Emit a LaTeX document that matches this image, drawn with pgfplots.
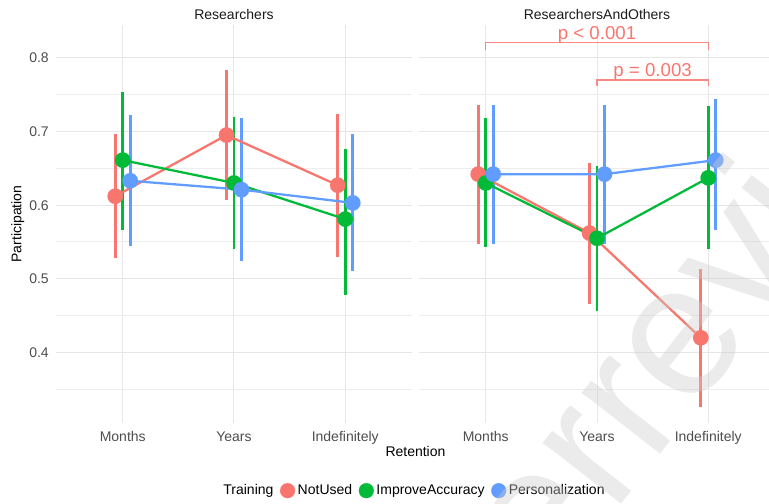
\documentclass[border=0pt]{standalone}
\usepackage{fontspec}
\setmainfont{Liberation Sans}
\usepackage{pgfplots}
\usepackage{pgfplotstable}
\pgfplotsset{compat=1.18}

\definecolor{cNot}{HTML}{F8766D}
\definecolor{cAcc}{HTML}{00BA38}
\definecolor{cPer}{HTML}{619CFF}
\definecolor{gridc}{HTML}{E6E6E6}
\definecolor{ticktext}{HTML}{4D4D4D}
\definecolor{striptext}{HTML}{1A1A1A}
\definecolor{wm}{gray}{0.8}

% Participation by retention period: estimate, lower and upper bound
% Panel 1: Researchers
\pgfplotstableread{
cat y lo hi
1 0.612 0.528 0.697
2 0.695 0.607 0.784
3 0.627 0.529 0.724
}\LNot
\pgfplotstableread{
cat y lo hi
1 0.661 0.566 0.754
2 0.630 0.540 0.720
3 0.581 0.478 0.676
}\LAcc
\pgfplotstableread{
cat y lo hi
1 0.633 0.544 0.722
2 0.621 0.524 0.718
3 0.603 0.510 0.697
}\LPer
% Panel 2: ResearchersAndOthers
\pgfplotstableread{
cat y lo hi
1 0.642 0.547 0.736
2 0.562 0.466 0.657
3 0.420 0.3265 0.513
}\RNot
\pgfplotstableread{
cat y lo hi
1 0.630 0.543 0.718
2 0.555 0.456 0.653
3 0.637 0.540 0.734
}\RAcc
\pgfplotstableread{
cat y lo hi
1 0.642 0.547 0.736
2 0.642 0.547 0.736
3 0.661 0.566 0.744
}\RPer

\newcommand{\dodge}{0.0674}
\newcommand{\txt}{\fontsize{10.5}{12}\selectfont}

\pgfplotsset{
  panel/.style={
    scale only axis, width=267pt, height=298.5pt,
    xmin=0.4, xmax=3.6, ymin=0.3043, ymax=0.8444,
    xtick={1,2,3}, xticklabels={Months,Years,Indefinitely},
    ytick={0.4,0.5,0.6,0.7,0.8},
    minor ytick={0.35,0.45,0.55,0.65,0.75},
    xmajorgrids, ymajorgrids, yminorgrids,
    major grid style={draw=gridc, line width=0.75pt},
    minor grid style={draw=gridc!70!white, line width=0.75pt},
    axis line style={draw=none},
    tick style={draw=none},
    /pgf/number format/assume math mode=true,
    /pgf/number format/fixed,
    /pgf/number format/fixed zerofill,
    /pgf/number format/precision=1,
    ticklabel style={font=\txt, text=ticktext, inner sep=0pt},
    xticklabel style={anchor=base, yshift=-14pt},
    yticklabel style={anchor=base east, xshift=-5.25pt, yshift=-3.75pt},
    clip=false,
  },
  ebar/.style={forget plot, draw=#1, line width=2pt, mark=none, -,
    quiver={u=0, v=\thisrow{hi}-\thisrow{lo},
      every arrow/.append style={draw=#1, line width=2pt}}},
  conn/.style={forget plot, color=#1, line width=1.7pt, mark=none},
  pts/.style={forget plot, color=#1, only marks, mark=*, mark size=5.8pt,
    mark options={fill=#1, draw=#1, line width=0.1pt}},
  key/.style={only marks, mark=*, mark size=5.6pt,
    mark options={fill=#1, draw=#1, line width=0.1pt}},
}

% draw one series of a panel: interval bars, connecting line, points
\newcommand{\bars}[3]{%
  \addplot[ebar=#2] table[x expr=\thisrow{cat}+#3, y=lo] {#1};}
\newcommand{\conn}[3]{%
  \addplot[conn=#2] table[x expr=\thisrow{cat}+#3, y=y] {#1};}
\newcommand{\pts}[3]{%
  \addplot[pts=#2] table[x expr=\thisrow{cat}+#3, y=y] {#1};}

\begin{document}
\begin{tikzpicture}

% left panel
\begin{axis}[panel, at={(42pt,-317.25pt)}, anchor=south west,
  legend columns=-1,
  legend style={at={(1.0056,-0.170)}, anchor=center, draw=none, fill=none,
    font=\txt, inner sep=0pt,
    /tikz/every even column/.append style={column sep=3pt}},
  legend cell align=left]
  \bars{\LNot}{cNot}{-\dodge}
  \bars{\LAcc}{cAcc}{0}
  \bars{\LPer}{cPer}{\dodge}
  \conn{\LNot}{cNot}{-\dodge}
  \conn{\LAcc}{cAcc}{0}
  \conn{\LPer}{cPer}{\dodge}
  \pts{\LNot}{cNot}{-\dodge}
  \pts{\LAcc}{cAcc}{0}
  \pts{\LPer}{cPer}{\dodge}
  \node[anchor=base, font=\txt, text=striptext] at (rel axis cs:0.5,1) [yshift=4.5pt] {Researchers};
  \addlegendimage{empty legend}
  \addlegendentry{Training}
  \addlegendimage{key=cNot}
  \addlegendentry{NotUsed}
  \addlegendimage{key=cAcc}
  \addlegendentry{ImproveAccuracy}
  \addlegendimage{key=cPer}
  \addlegendentry{Personalization}
\end{axis}

% right panel
\begin{axis}[panel, at={(314.25pt,-317.25pt)}, anchor=south west,
  yticklabels={}]
  \bars{\RNot}{cNot}{-\dodge}
  \bars{\RAcc}{cAcc}{0}
  \bars{\RPer}{cPer}{\dodge}
  \conn{\RNot}{cNot}{-\dodge}
  \conn{\RAcc}{cAcc}{0}
  \conn{\RPer}{cPer}{\dodge}
  \pts{\RNot}{cNot}{-\dodge}
  \pts{\RAcc}{cAcc}{0}
  \pts{\RPer}{cPer}{\dodge}
  \node[anchor=base, font=\txt, text=striptext] at (rel axis cs:0.5,1) [yshift=4.5pt] {ResearchersAndOthers};
  % significance brackets
  \draw[cNot, opacity=0.85, line width=0.9pt]
    (axis cs:1,0.8104) -- (axis cs:1,0.8204) -- (axis cs:3,0.8204) -- (axis cs:3,0.8104);
  \node[anchor=base, text=cNot, font=\fontsize{14}{16}\selectfont, inner sep=0pt]
    at (axis cs:2,0.8204) [yshift=2.5pt] {p < 0.001};
  \draw[cNot, opacity=0.85, line width=0.9pt]
    (axis cs:2,0.762) -- (axis cs:2,0.7697) -- (axis cs:3,0.7697) -- (axis cs:3,0.762);
  \node[anchor=base, text=cNot, font=\fontsize{14}{16}\selectfont, inner sep=0pt]
    at (axis cs:2.5,0.7697) [yshift=2.9pt] {p = 0.003};
\end{axis}

% axis titles
\node[anchor=base, font=\txt] at (311.6pt,-342.5pt) {Retention};
\node[anchor=base, rotate=90, font=\txt] at (16.1pt,-168pt) {Participation};

% watermark
\node[rotate=52, anchor=base west, inner sep=0pt, text=wm, text opacity=0.4,
  font=\fontsize{141}{141}\selectfont] at (489pt,-348.75pt) {review};
\node[rotate=52, anchor=base east, inner sep=0pt, text=wm, text opacity=0.4,
  font=\fontsize{141}{141}\selectfont] at (489pt,-348.75pt) {Under\hspace{0.278em}};

\pgfresetboundingbox
\useasboundingbox (0pt,0pt) rectangle (576.75pt,-378pt);
\end{tikzpicture}
\end{document}
